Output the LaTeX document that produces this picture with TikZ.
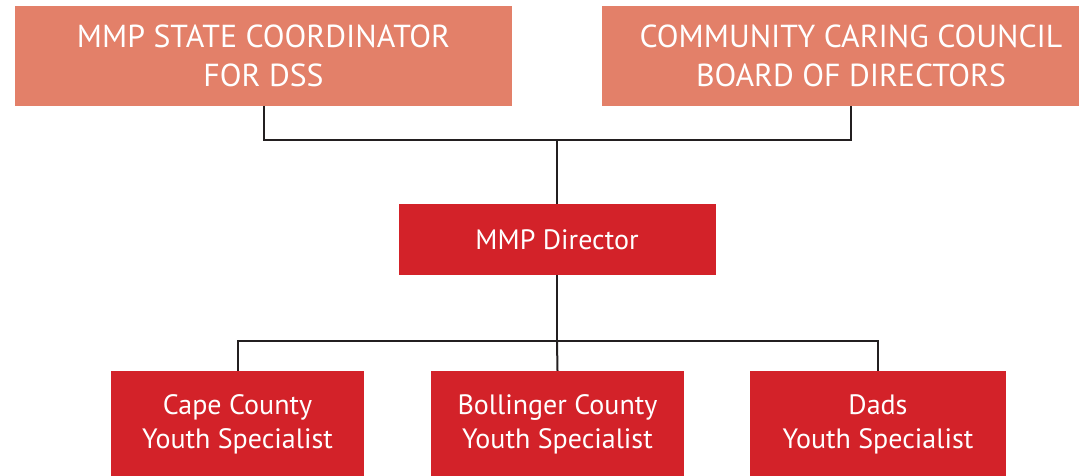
\documentclass[tikz,border=0pt]{standalone}
\usepackage{fontspec}
\setmainfont{PT Sans}
\definecolor{salmon}{HTML}{E38069}
\definecolor{mmpred}{HTML}{D32229}
\definecolor{linegray}{HTML}{231F20}
\tikzset{
  topbox/.style={fill=salmon,text=white,align=center,minimum width=497pt,minimum height=100pt,font=\fontsize{31.8}{39.5}\selectfont},
  redbox/.style={fill=mmpred,text=white,align=center,font=\fontsize{28}{34}\selectfont},
  link/.style={draw=linegray,line width=2pt}
}
\begin{document}
\begin{tikzpicture}[x=1pt,y=-1pt]
\clip (0,0) rectangle (1079,475);
\node [topbox] (coord) at (263.5,56) {MMP STATE COORDINATOR\\FOR DSS};
\node [topbox,minimum width=498pt] (council) at (851,56) {COMMUNITY CARING COUNCIL\\BOARD OF DIRECTORS};
\node [redbox,minimum width=317pt,minimum height=71pt] (director) at (557,239.5) {MMP Director};
\node [redbox,minimum width=253pt,minimum height=106pt] (cape) at (237.5,424) {Cape County\\Youth Specialist};
\node [redbox,minimum width=253pt,minimum height=106pt] (bollinger) at (557.5,424) {Bollinger County\\Youth Specialist};
\node [redbox,minimum width=256pt,minimum height=106pt] (dads) at (878,424) {Dads\\Youth Specialist};
\coordinate (topjoin) at (557,140);
\coordinate (lowjoin) at (557,341);
\draw [link] (coord.south) |- (topjoin) -| (council.south);
\draw [link] (topjoin) -- (director.north);
\draw [link] (director.south) -- (lowjoin);
\draw [link] (cape.north) |- (lowjoin) -| (dads.north);
\draw [link] (lowjoin) -- (bollinger.north);
\end{tikzpicture}
\end{document}
